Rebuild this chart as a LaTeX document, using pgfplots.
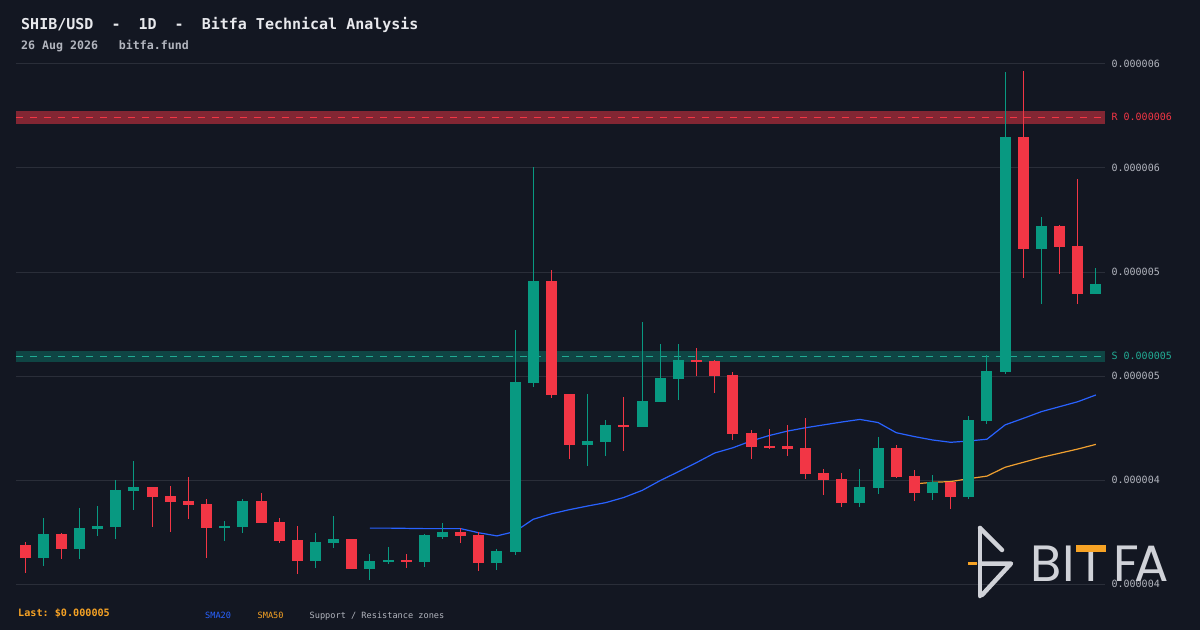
\documentclass[border=0pt]{standalone}
\usepackage{fontspec}
\setmonofont{DejaVu Sans Mono}
\newfontfamily\logofont{Poppins}
\usepackage{pgfplots}
\usepackage{pgfplotstable}
\pgfplotsset{compat=1.18}
\definecolor{bg}{HTML}{131722}
\definecolor{gridc}{HTML}{2A2E39}
\definecolor{upc}{HTML}{089981}
\definecolor{dnc}{HTML}{F23645}
\definecolor{smab}{HTML}{2962FF}
\definecolor{smao}{HTML}{F0A030}
\definecolor{txt}{HTML}{B2B5BE}
\definecolor{titlec}{HTML}{E8E9ED}
\definecolor{teald}{HTML}{22AB94}
\definecolor{logoc}{HTML}{D0D2D8}
\definecolor{lastc}{HTML}{F7A325}

% up (green) candles: index, open, high, low, close (price x 1e-6)
\pgfplotstableread{
i o h l c
1 4.101 4.254 4.070 4.192
3 4.136 4.292 4.097 4.215
4 4.213 4.300 4.186 4.223
5 4.220 4.400 4.174 4.362
6 4.359 4.473 4.286 4.373
11 4.217 4.242 4.167 4.223
12 4.220 4.327 4.197 4.319
16 4.090 4.196 4.063 4.162
17 4.159 4.262 4.140 4.173
19 4.059 4.115 4.017 4.088
20 4.086 4.142 4.078 4.092
22 4.086 4.192 4.067 4.188
23 4.182 4.235 4.174 4.200
26 4.082 4.135 4.055 4.127
27 4.124 4.977 4.113 4.777
28 4.774 5.604 4.759 5.165
31 4.536 4.731 4.455 4.550
32 4.547 4.631 4.493 4.612
34 4.605 5.008 4.605 4.704
35 4.701 4.923 4.701 4.792
36 4.790 4.923 4.709 4.862
46 4.313 4.442 4.297 4.373
47 4.370 4.565 4.347 4.523
50 4.351 4.419 4.324 4.392
52 4.336 4.646 4.328 4.631
53 4.628 4.881 4.617 4.819
54 4.815 5.969 4.809 5.719
56 5.288 5.412 5.077 5.377
59 5.115 5.215 5.115 5.154
}\upcandles

% down (red) candles
\pgfplotstableread{
i o h l c
0 4.150 4.162 4.043 4.101
2 4.192 4.196 4.097 4.136
7 4.373 4.375 4.220 4.336
8 4.338 4.377 4.201 4.317
9 4.319 4.412 4.251 4.305
10 4.308 4.327 4.101 4.217
13 4.319 4.350 4.236 4.236
14 4.238 4.254 4.159 4.167
15 4.169 4.223 4.040 4.090
18 4.173 4.175 4.059 4.059
21 4.092 4.115 4.063 4.086
24 4.200 4.215 4.159 4.186
25 4.188 4.200 4.051 4.082
29 5.165 5.208 4.717 4.728
30 4.731 4.731 4.482 4.536
33 4.612 4.719 4.513 4.605
37 4.862 4.908 4.801 4.855
38 4.858 4.862 4.736 4.801
39 4.804 4.815 4.555 4.578
40 4.581 4.592 4.482 4.528
41 4.531 4.596 4.520 4.524
42 4.531 4.612 4.493 4.520
43 4.523 4.638 4.405 4.424
44 4.427 4.442 4.343 4.401
45 4.404 4.427 4.297 4.313
48 4.523 4.535 4.409 4.413
49 4.415 4.438 4.320 4.351
51 4.392 4.393 4.290 4.336
55 5.719 5.973 5.177 5.288
57 5.377 5.381 5.192 5.296
58 5.300 5.558 5.077 5.115
}\downcandles

\pgfplotstableread{
i v
19 4.215
20 4.215
21 4.214
22 4.213
23 4.213
24 4.213
25 4.197
26 4.185
27 4.202
28 4.249
29 4.270
30 4.286
31 4.300
32 4.313
33 4.333
34 4.360
35 4.398
36 4.432
37 4.467
38 4.504
39 4.524
40 4.550
41 4.571
42 4.588
43 4.601
44 4.612
45 4.623
46 4.633
47 4.621
48 4.582
49 4.567
50 4.554
51 4.545
52 4.550
53 4.557
54 4.612
55 4.637
56 4.663
57 4.682
58 4.701
59 4.727
}\smatwenty

\pgfplotstableread{
i v
49 4.385
50 4.391
51 4.394
52 4.405
53 4.415
54 4.449
55 4.468
56 4.487
57 4.503
58 4.519
59 4.537
}\smafifty

\pgfplotsset{
  candle/.style n args={2}{only marks, mark=*, mark size=0.01pt,
    mark options={draw opacity=0, fill opacity=0}, forget plot,
    error bars/.cd, y dir=both, y explicit, error mark=none,
    error bar style={line width=#2, draw=#1, draw opacity=1}},
}

\begin{document}
\begin{tikzpicture}[x=1pt,y=1pt]
\fill[bg] (0,0) rectangle (1200,630);
\begin{axis}[
  at={(16pt,46pt)}, anchor=south west,
  width=1089pt, height=520pt, scale only axis,
  xmin=-0.5, xmax=59.5, ymin=4, ymax=6,
  clip=false,
  axis line style={draw=none},
  xtick=\empty,
  ytick={4,4.4,4.8,5.2,5.6,6},
  yticklabels={0.000004,0.000004,0.000005,0.000005,0.000006,0.000006},
  yticklabel pos=right,
  major tick length=0pt,
  ymajorgrids, grid style={gridc, line width=1pt},
  yticklabel style={anchor=west, inner sep=0pt, xshift=6.5pt,
    font=\ttfamily\fontsize{10}{12}\selectfont, text=txt},
]
% resistance zone
\addplot[draw=none, fill=dnc, fill opacity=0.5, forget plot]
  coordinates {(-0.5,5.770) (59.5,5.770) (59.5,5.819) (-0.5,5.819)} -- cycle;
\addplot[dnc, line width=1pt, dash pattern=on 7pt off 7pt, forget plot]
  coordinates {(-0.5,5.795) (59.5,5.795)};
% support zone
\addplot[draw=none, fill=upc, fill opacity=0.36, forget plot]
  coordinates {(-0.5,4.855) (59.5,4.855) (59.5,4.896) (-0.5,4.896)} -- cycle;
\addplot[teald, line width=1pt, dash pattern=on 7pt off 7pt, forget plot]
  coordinates {(-0.5,4.876) (59.5,4.876)};
% moving averages
\addplot[smab, line width=1.2pt, forget plot] table[x=i, y=v] {\smatwenty};
\addplot[smao, line width=1.2pt, forget plot] table[x=i, y=v] {\smafifty};
% wicks
\addplot[candle={upc}{1pt}]
  table[x=i, y expr={(\thisrow{h}+\thisrow{l})/2},
        y error expr={(\thisrow{h}-\thisrow{l})/2}] {\upcandles};
\addplot[candle={dnc}{1pt}]
  table[x=i, y expr={(\thisrow{h}+\thisrow{l})/2},
        y error expr={(\thisrow{h}-\thisrow{l})/2}] {\downcandles};
% bodies
\addplot[candle={upc}{11pt}]
  table[x=i, y expr={(\thisrow{o}+\thisrow{c})/2},
        y error expr={abs(\thisrow{c}-\thisrow{o})/2}] {\upcandles};
\addplot[candle={dnc}{11pt}]
  table[x=i, y expr={(\thisrow{o}+\thisrow{c})/2},
        y error expr={abs(\thisrow{c}-\thisrow{o})/2}] {\downcandles};
% zone labels
\node[anchor=west, inner sep=0pt, xshift=6.5pt, text=dnc,
  font=\ttfamily\fontsize{10}{12}\selectfont] at (axis cs:59.5,5.795) {R 0.000006};
\node[anchor=west, inner sep=0pt, xshift=6.5pt, text=teald,
  font=\ttfamily\fontsize{10}{12}\selectfont] at (axis cs:59.5,4.876) {S 0.000005};
\end{axis}
% header
\node[anchor=base west, inner sep=0pt, text=titlec] at (21,600.7)
  {\ttfamily\bfseries\fontsize{15}{18}\selectfont SHIB/USD\ \ -\ \ 1D\ \ -\ \ Bitfa Technical Analysis};
\node[anchor=base west, inner sep=0pt, text=txt] at (21,580.7)
  {\ttfamily\bfseries\fontsize{11.6}{14}\selectfont 26 Aug 2026\ \ \ bitfa.fund};
% footer
\node[anchor=base west, inner sep=0pt, text=lastc] at (18,13.3)
  {\ttfamily\bfseries\fontsize{10.15}{12}\selectfont Last: \$0.000005};
\node[anchor=base west, inner sep=0pt, text=smab] at (205,11.7)
  {\ttfamily\fontsize{8.6}{10}\selectfont SMA20};
\node[anchor=base west, inner sep=0pt, text=lastc] at (257.5,11.7)
  {\ttfamily\fontsize{8.6}{10}\selectfont SMA50};
\node[anchor=base west, inner sep=0pt, text=txt] at (309.5,11.7)
  {\ttfamily\fontsize{8.6}{10}\selectfont Support / Resistance zones};
% watermark logo
\begin{scope}[logoc, line width=4.5pt, line cap=round, line join=round]
\draw (980,102) -- (980,34);
\draw (980,102) -- (1002,80);
\draw (980,66.5) -- (1011,66.5) -- (982,35);
\end{scope}
\draw[lastc, line width=3pt] (968,66.5) -- (977,66.5);
\begin{scope}[every node/.style={inner sep=0pt, text=logoc,
    font=\logofont\fontsize{51}{51}\selectfont}]
\node[anchor=base west] at (1030,48.3) {B};
\node[anchor=base west] at (1062,48.3) {I};
\node[anchor=base] at (1091,48.3) {T};
\node[anchor=base west] at (1113,48.3) {F};
\node[anchor=base east] at (1169,48.3) {A};
\end{scope}
\fill[lastc] (1076,78.3) rectangle (1106,85);
\end{tikzpicture}
\end{document}
